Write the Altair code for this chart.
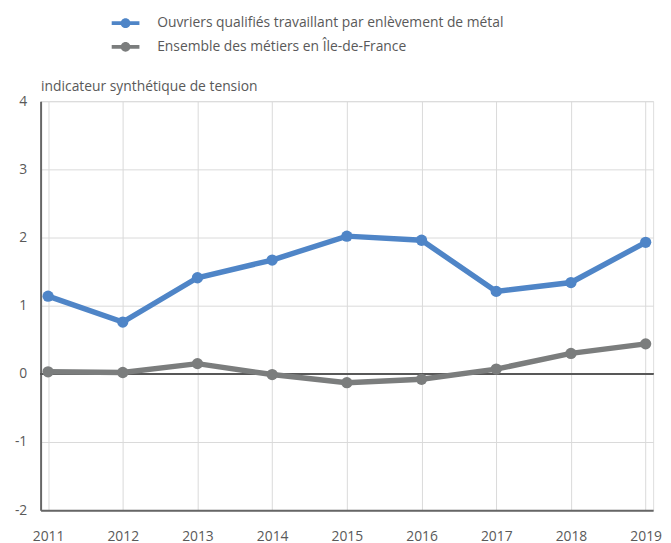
import altair as alt
import pandas as pd

years = [2011, 2012, 2013, 2014, 2015, 2016, 2017, 2018, 2019]
series_names = [
    "Ouvriers qualifiés travaillant par enlèvement de métal",
    "Ensemble des métiers en Île-de-France",
]
ouvriers = [1.14, 0.76, 1.41, 1.67, 2.02, 1.96, 1.21, 1.34, 1.93]
ensemble = [0.03, 0.02, 0.15, -0.01, -0.13, -0.08, 0.07, 0.30, 0.44]
colors = ["#4f85c7", "#7b7d7d"]
y_ticks = [-2, -1, 0, 1, 2, 3, 4]

rows = []
for y, v in zip(years, ouvriers):
    rows.append({"annee": str(y), "serie": series_names[0], "valeur": v})
for y, v in zip(years, ensemble):
    rows.append({"annee": str(y), "serie": series_names[1], "valeur": v})
df = pd.DataFrame(rows)

FONT = "Open Sans"
TXT = "#595959"

x_enc = alt.X(
    "annee:O",
    scale=alt.Scale(type="point", padding=0.1),
    axis=alt.Axis(
        title=None,
        labelAngle=0,
        labelFontSize=14,
        labelColor=TXT,
        labelFont=FONT,
        labelPadding=20,
        ticks=False,
        domain=True,
        domainColor="#666666",
        domainWidth=2,
        grid=True,
        gridColor="#d9d9d9",
        gridWidth=1,
    ),
)
y_enc = alt.Y(
    "valeur:Q",
    scale=alt.Scale(domain=[-2, 4], nice=False, zero=False),
    axis=alt.Axis(
        values=y_ticks,
        labelExpr="datum.value + ''",
        title="indicateur synthétique de tension",
        titleAngle=0,
        titleX=0,
        titleY=-11,
        titleAlign="left",
        titleBaseline="alphabetic",
        titleFontSize=14,
        titleFontWeight="normal",
        titleColor=TXT,
        titleFont=FONT,
        labelFontSize=14,
        labelColor=TXT,
        labelFont=FONT,
        labelPadding=14,
        ticks=False,
        domain=True,
        domainColor="#666666",
        domainWidth=2,
        grid=True,
        gridColor="#d9d9d9",
        gridWidth=1,
    ),
)
color_scale = alt.Scale(domain=series_names, range=colors)

base = alt.Chart(df)

zero_rule = base.mark_rule(color="#595959", strokeWidth=1.2).encode(
    y=alt.datum(0)
)

lines = base.mark_line(strokeWidth=5.5).encode(
    x=x_enc,
    y=y_enc,
    color=alt.Color("serie:N", scale=color_scale, legend=None),
)

legend_path = (
    "M-1.08,-0.15 L1.08,-0.15 L1.08,0.15 L-1.08,0.15 Z "
    "M0.38,0 A0.38,0.38 0 1,1 -0.38,0 A0.38,0.38 0 1,1 0.38,0 Z"
)

points = base.mark_point(filled=True, size=130, opacity=1).encode(
    x=x_enc,
    y=y_enc,
    color=alt.Color(
        "serie:N",
        scale=color_scale,
        sort=series_names,
        legend=alt.Legend(
            title=None,
            orient="none",
            legendX=73,
            legendY=-92,
            direction="vertical",
            symbolType=legend_path,
            symbolSize=676,
            symbolStrokeWidth=0,
            symbolOpacity=1,
            labelFontSize=14,
            labelColor=TXT,
            labelFont=FONT,
            labelOffset=19,
            labelLimit=600,
            rowPadding=4,
            padding=0,
        ),
    ),
)

chart = (
    alt.layer(zero_rule, lines, points)
    .resolve_legend(color="independent")
    .properties(
        width=620,
        height=414,
        autosize=alt.AutoSizeParams(type="none"),
        padding={"left": 33, "top": 91, "right": 10, "bottom": 40},
    )
    .configure_view(stroke=None)
    .configure(font=FONT)
)

chart.save("out.html", embed_options={"renderer": "svg", "actions": False})
